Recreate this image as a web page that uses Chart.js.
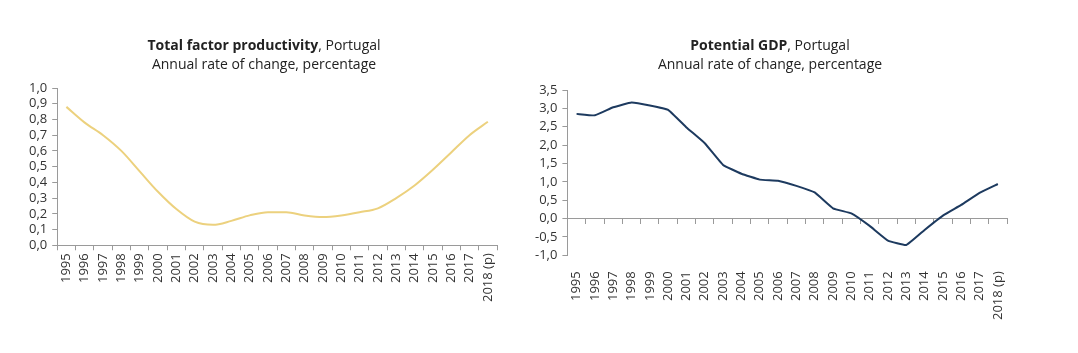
<!DOCTYPE html>
<html>
<head>
<meta charset="utf-8">
<script src="https://cdn.jsdelivr.net/npm/chart.js@4/dist/chart.umd.min.js"></script>
<style>
  body { margin: 0; background: #fff; font-family: "Open Sans", sans-serif; color: #222; }
  .painel { position: absolute; top: 0; height: 353px; }
  .titulo { position: absolute; top: 35px; font-size: 14px; line-height: 19px; text-align: center; width: 400px; }
  .titulo b { font-weight: 700; }
</style>
</head>
<body>
<div class="painel" style="left:0;width:530px"><canvas id="graficoPTF"></canvas></div>
<div class="painel" style="left:530px;width:548px"><canvas id="graficoPIB"></canvas></div>
<div class="titulo" style="left:64px"><b>Total factor productivity</b>, Portugal<br>Annual rate of change, percentage</div>
<div class="titulo" style="left:570px"><b>Potential GDP</b>, Portugal<br>Annual rate of change, percentage</div>
<script>
// anos (categorias)
const anos = ['1995','1996','1997','1998','1999','2000','2001','2002','2003','2004','2005','2006',
              '2007','2008','2009','2010','2011','2012','2013','2014','2015','2016','2017','2018 (p)'];

// produtividade total dos fatores, taxa de variação anual (%)
const valoresPTF = [0.88, 0.78, 0.70, 0.60, 0.47, 0.34, 0.23, 0.15, 0.13, 0.155, 0.19, 0.21,
                    0.21, 0.19, 0.18, 0.19, 0.21, 0.235, 0.30, 0.38, 0.48, 0.59, 0.70, 0.785];

// PIB potencial, taxa de variação anual (%)
const valoresPIB = [2.85, 2.81, 3.03, 3.16, 3.08, 2.96, 2.48, 2.05, 1.46, 1.22, 1.06, 1.03,
                    0.89, 0.71, 0.28, 0.14, -0.20, -0.60, -0.72, -0.31, 0.08, 0.37, 0.70, 0.94];

// limites dos eixos
const eixoPTF = { min: 0, max: 1.0, passo: 0.1 };
const eixoPIB = { min: -1.0, max: 3.5, passo: 0.5 };

const corEixo = '#9a9a9a';
const corTexto = '#333';
const fonteEixo = { family: 'Open Sans', size: 13 };

function formatarDecimal(v) {
    return Number(v).toFixed(1).replace('.', ',');
}

function eixoY(limites) {
    return {
        min: limites.min,
        max: limites.max,
        ticks: { stepSize: limites.passo, autoSkip: false, color: corTexto, font: fonteEixo, padding: 5, callback: formatarDecimal },
        grid: { drawOnChartArea: false, tickLength: 5, color: corEixo },
        border: { color: corEixo }
    };
}

// gráfico da esquerda
new Chart(document.getElementById('graficoPTF'), {
    type: 'line',
    data: {
        labels: anos,
        datasets: [{
            data: valoresPTF,
            borderColor: '#ecd17e',
            borderWidth: 2,
            pointRadius: 0,
            tension: 0.4,
            cubicInterpolationMode: 'monotone',
            fill: false
        }]
    },
    options: {
        responsive: true,
        maintainAspectRatio: false,
        animation: false,
        layout: { padding: { left: 24, top: 88, right: 33, bottom: 48 } },
        plugins: { legend: { display: false }, tooltip: { enabled: false } },
        scales: {
            x: {
                offset: true,
                ticks: { color: corTexto, font: fonteEixo, maxRotation: 90, minRotation: 90, padding: 3, autoSkip: false },
                grid: { offset: true, drawOnChartArea: false, tickLength: 5, color: corEixo },
                border: { color: corEixo }
            },
            y: eixoY(eixoPTF)
        }
    }
});

// gráfico da direita
new Chart(document.getElementById('graficoPIB'), {
    type: 'line',
    data: {
        labels: anos,
        datasets: [{
            data: valoresPIB,
            borderColor: '#1d3a5f',
            borderWidth: 2,
            pointRadius: 0,
            tension: 0.1,
            fill: false,
            xAxisID: 'x'
        }]
    },
    options: {
        responsive: true,
        maintainAspectRatio: false,
        animation: false,
        layout: { padding: { left: 0, top: 90, right: 71, bottom: 25 } },
        plugins: { legend: { display: false }, tooltip: { enabled: false } },
        scales: {
            x: {
                offset: true,
                ticks: { color: corTexto, font: fonteEixo, maxRotation: 90, minRotation: 90, padding: 8, autoSkip: false },
                grid: { display: false },
                border: { display: false }
            },
            // linha do zero com marcas entre anos
            xZero: {
                type: 'category',
                position: { y: 0 },
                offset: true,
                ticks: { display: false },
                grid: { offset: true, drawOnChartArea: false, tickLength: 5, color: corEixo },
                border: { color: corEixo }
            },
            y: eixoY(eixoPIB)
        }
    }
});
</script>
</body>
</html>
